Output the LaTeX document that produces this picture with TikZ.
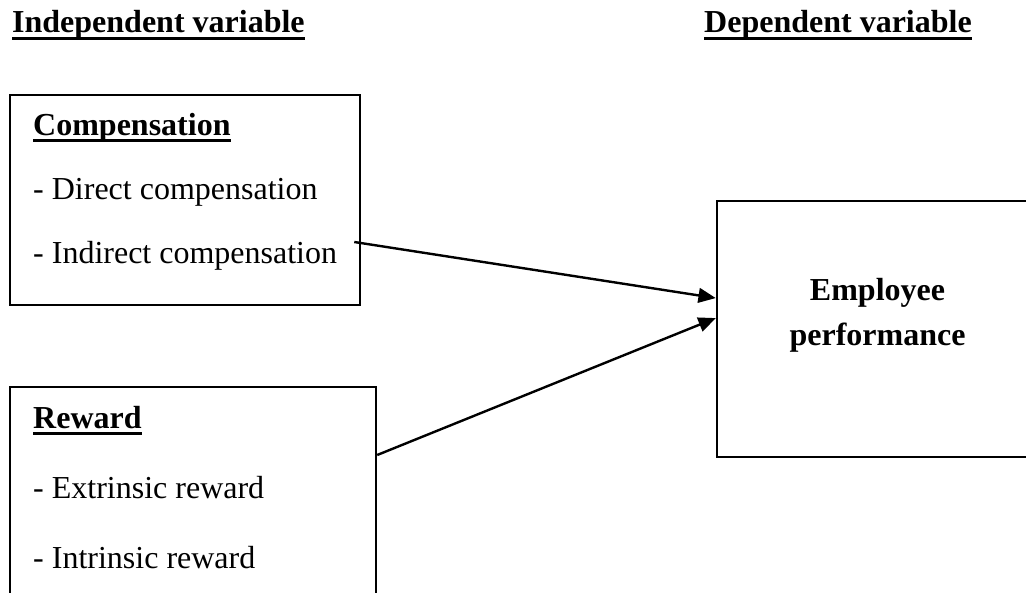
\documentclass[tikz,border=0pt]{standalone}
\usepackage{fontspec}
\setmainfont{Liberation Serif}
\usepackage{tikz}
\usetikzlibrary{arrows.meta}
\usetikzlibrary{calc}
\usetikzlibrary{positioning}

\newcommand{\undl}[1]{\setbox0\hbox{#1}\rlap{\rule[-2.6pt]{\wd0}{1.1pt}}\box0}

\begin{document}
\begin{tikzpicture}[x=0.375pt,y=-0.375pt,-,>={Triangle[length=6.5pt,width=5.5pt]},line width=0.9pt,font=\fontsize{12}{14}\selectfont]
  \tikzstyle{blk}=[draw, rectangle, inner sep=0pt]
  \tikzstyle{txt}=[inner sep=0pt, anchor=base west]
  \useasboundingbox (0,0) rectangle (1026,592);
  \clip (0,0) rectangle (1026,592);
  % boxes
  \node[blk, minimum width=131.25pt, minimum height=78.75pt] (comp) at (185,200) {};
  \node[blk, minimum width=137.25pt, minimum height=85.5pt] (rew) at (193,501) {};
  \node[blk, minimum width=120.4pt, minimum height=96pt] (perf) at (877.5,329) {};
  % headings
  \node[txt] (indep) at (11,33) {\textbf{\undl{Independent variable}}};
  \node[txt] (dep) at (703,33) {\textbf{\undl{Dependent variable}}};
  % independent side
  \node[txt] (comptitle) at (32,135) {\textbf{\undl{Compensation}}};
  \node[below=24pt of comptitle.base west, txt] (direct) {- Direct compensation};
  \node[below=24pt of direct.base west, txt] (indirect) {- Indirect compensation};
  \node[txt] (rewtitle) at (32,428) {\textbf{\undl{Reward}}};
  \node[below=26.25pt of rewtitle.base west, txt] (extr) {- Extrinsic reward};
  \node[below=26.25pt of extr.base west, txt] (intr) {- Intrinsic reward};
  % dependent side
  \node[align=center, inner sep=0pt, font=\fontsize{12}{16.9}\selectfont\bfseries] (perftext) at (877.5,315) {Employee\\performance};
  \path[->]
    ([xshift=-2.6pt,yshift=-15.75pt]comp.east) edge ([yshift=11.6pt]perf.west)
    ([yshift=17.25pt]rew.east) edge ([yshift=4.1pt]perf.west);
\end{tikzpicture}
\end{document}
